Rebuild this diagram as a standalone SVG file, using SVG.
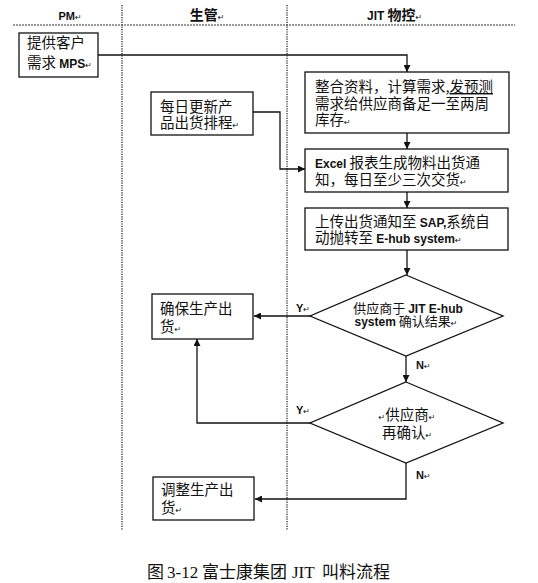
<svg xmlns="http://www.w3.org/2000/svg" width="538" height="583" viewBox="0 0 538 583">
<style>
.bg{fill:#ffffff}
.box{fill:#ffffff;stroke:#111;stroke-width:1.3}
.dia{fill:#ffffff;stroke:#111;stroke-width:1.3}
.conn{fill:none;stroke:#111;stroke-width:1.3}
.lane{stroke:#333;stroke-width:1.4;stroke-dasharray:1.2 1.2;fill:none}
.hline{stroke:#333;stroke-width:1;stroke-dasharray:2 1;fill:none}
.t{font-family:"Noto Sans CJK SC","Liberation Sans",sans-serif;font-size:14.5px;fill:#111}
.d{font-family:"Noto Sans CJK SC","Liberation Sans",sans-serif;font-size:13px;fill:#111}
.lat{font-family:"Liberation Sans",Arial,sans-serif;font-weight:bold;font-size:12px}
.rt{font-family:"DejaVu Sans",sans-serif;font-size:8px;font-weight:normal}
.hd{font-family:"Noto Sans CJK SC","Liberation Sans",sans-serif;font-weight:bold;font-size:14px;fill:#111}
.lbl{font-family:"Liberation Sans",Arial,sans-serif;font-weight:bold;font-size:11px;fill:#111}
.cap{font-family:"Liberation Serif","Noto Sans CJK SC",serif;font-size:17px;fill:#111}
</style>
<defs>
<marker id="ah" viewBox="0 0 10 10" refX="10" refY="5" markerWidth="7" markerHeight="7" markerUnits="userSpaceOnUse" orient="auto">
<path d="M0,0 L10,5 L0,10 Z" fill="#111"/>
</marker>
</defs>
<rect class="bg" x="0" y="0" width="538" height="583"/>

<g id="lanes">
<line class="hline" x1="13" y1="25" x2="515" y2="25"/>
<line class="lane" x1="122" y1="5" x2="122" y2="530"/>
<line class="lane" x1="287" y1="5" x2="287" y2="530"/>
<text class="lbl" x="70" y="20" text-anchor="middle">PM<tspan class="rt">↵</tspan></text>
<text class="hd" x="207" y="20" text-anchor="middle">生管<tspan class="rt">↵</tspan></text>
<text class="hd" x="367" y="20"><tspan class="lat" font-size="10px">JIT</tspan> 物控<tspan class="rt">↵</tspan></text>
</g>

<g id="connectors">
<polyline class="conn" points="98,55 407,55 407,72" marker-end="url(#ah)"/>
<line class="conn" x1="407" y1="133" x2="407" y2="149" marker-end="url(#ah)"/>
<polyline class="conn" points="253,112 280,112 280,169 305,169" marker-end="url(#ah)"/>
<line class="conn" x1="407" y1="192" x2="407" y2="208" marker-end="url(#ah)"/>
<line class="conn" x1="407" y1="250" x2="407" y2="275" marker-end="url(#ah)"/>
<line class="conn" x1="310" y1="316" x2="254" y2="316" marker-end="url(#ah)"/>
<line class="conn" x1="406" y1="356" x2="406" y2="382" marker-end="url(#ah)"/>
<polyline class="conn" points="310,423 197,423 197,339" marker-end="url(#ah)"/>
<polyline class="conn" points="406,463 406,499 255,499" marker-end="url(#ah)"/>
<text class="lbl" x="296" y="312">Y<tspan class="rt">↵</tspan></text>
<text class="lbl" x="416" y="369">N<tspan class="rt">↵</tspan></text>
<text class="lbl" x="296" y="414">Y<tspan class="rt">↵</tspan></text>
<text class="lbl" x="416" y="479">N<tspan class="rt">↵</tspan></text>
</g>

<g id="pm-demand">
<rect class="box" x="19" y="33" width="79" height="44"/>
<text class="t" x="27" y="48">提供客户</text>
<text class="t" x="27" y="68">需求 <tspan class="lat">MPS</tspan><tspan class="rt">↵</tspan></text>
</g>

<g id="integrate">
<rect class="box" x="305" y="72" width="204" height="61"/>
<text class="t" x="315" y="92">整合资料，计算需求,<tspan text-decoration="underline">发预测</tspan></text>
<text class="t" x="315" y="109">需求给供应商备足一至两周</text>
<text class="t" x="315" y="125">库存<tspan class="rt">↵</tspan></text>
</g>

<g id="daily-schedule">
<rect class="box" x="151" y="92" width="102" height="43"/>
<text class="t" x="160" y="112">每日更新产</text>
<text class="t" x="160" y="128">品出货排程<tspan class="rt">↵</tspan></text>
</g>

<g id="excel-notice">
<rect class="box" x="305" y="149" width="203" height="43"/>
<text class="t" x="315" y="168"><tspan class="lat">Excel</tspan> 报表生成物料出货通</text>
<text class="t" x="315" y="185">知，每日至少三次交货<tspan class="rt">↵</tspan></text>
</g>

<g id="upload-sap">
<rect class="box" x="305" y="208" width="203" height="42"/>
<text class="t" x="315" y="227">上传出货通知至 <tspan class="lat">SAP,</tspan>系统自</text>
<text class="t" x="315" y="243">动抛转至 <tspan class="lat">E-hub system</tspan><tspan class="rt">↵</tspan></text>
</g>

<g id="supplier-confirm">
<polygon class="dia" points="406,275 503,316 406,356 310,316"/>
<text class="d" x="408" y="313" text-anchor="middle">供应商于 <tspan class="lat">JIT E-hub</tspan></text>
<text class="d" x="406" y="326" text-anchor="middle"><tspan class="lat">system</tspan> 确认结果<tspan class="rt">↵</tspan></text>
</g>

<g id="ensure-shipment">
<rect class="box" x="152" y="294" width="101" height="45"/>
<text class="t" x="160" y="314">确保生产出</text>
<text class="t" x="160" y="332">货<tspan class="rt">↵</tspan></text>
</g>

<g id="supplier-reconfirm">
<polygon class="dia" points="406,382 503,423 406,463 310,423"/>
<text class="t" x="407" y="420" text-anchor="middle" font-size="14px"><tspan class="rt">↵</tspan>供应商<tspan class="rt">↵</tspan></text>
<text class="t" x="407" y="438" text-anchor="middle" font-size="14px">再确认<tspan class="rt">↵</tspan></text>
</g>

<g id="adjust-shipment">
<rect class="box" x="153" y="477" width="101" height="43"/>
<text class="t" x="161" y="495">调整生产出</text>
<text class="t" x="161" y="513">货<tspan class="rt">↵</tspan></text>
</g>

<g id="caption">
<text class="cap" y="578"><tspan x="147">图</tspan><tspan x="167">3-12</tspan><tspan x="202">富士康集团</tspan><tspan x="292">JIT</tspan><tspan x="322">叫料流程</tspan></text>
</g>
</svg>
